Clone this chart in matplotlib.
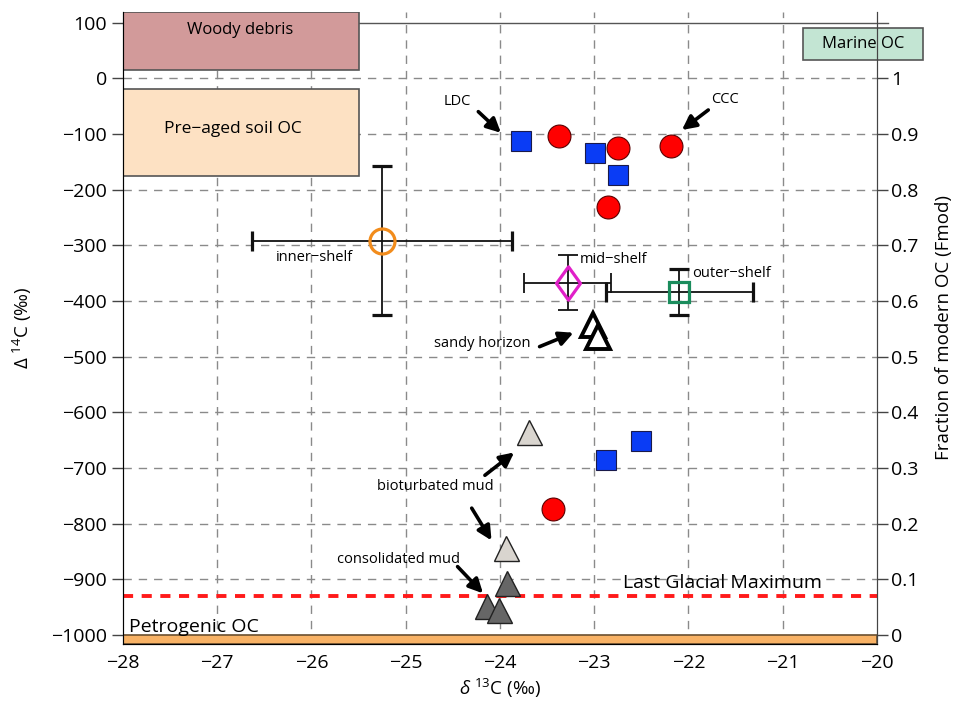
import matplotlib
matplotlib.use("Agg")
import matplotlib.pyplot as plt
from matplotlib.patches import Rectangle
from matplotlib.path import Path
import numpy as np

plt.rcParams['font.family'] = ['Open Sans', 'DejaVu Sans']
plt.rcParams['mathtext.fontset'] = 'custom'
plt.rcParams['mathtext.rm'] = 'Open Sans'
plt.rcParams['mathtext.it'] = 'Open Sans:italic'
plt.rcParams['axes.unicode_minus'] = True

# ---------------- data ----------------
ccc_d13c = [-23.37, -22.75, -22.19, -22.85, -23.44]
ccc_D14c = [-104, -125, -122, -231, -773]
ldc_d13c = [-23.78, -22.99, -22.75, -22.88, -22.50]
ldc_D14c = [-113, -135, -173, -686, -652]

shelf_names = ['inner\u2212shelf', 'mid\u2212shelf', 'outer\u2212shelf']
shelf_d13c = [-25.25, -23.28, -22.10]
shelf_D14c = [-292, -367, -384]
shelf_xerr = [1.38, 0.46, 0.78]
shelf_yerr = [134, 50, 41]

sandy_d13c = [-23.01, -22.955]
sandy_D14c = [-443, -465]
biot_d13c = [-23.69, -23.94]
biot_D14c = [-635, -843]
cons_d13c = [-23.93, -24.14, -24.01]
cons_D14c = [-907, -948, -955]

lgm_D14c = -930
xticks = [-28, -27, -26, -25, -24, -23, -22, -21, -20]
yticks = list(range(-1000, 101, 100))
fticks = [0, 0.1, 0.2, 0.3, 0.4, 0.5, 0.6, 0.7, 0.8, 0.9, 1]
fticklabels = ['0', '0.1', '0.2', '0.3', '0.4', '0.5', '0.6', '0.7', '0.8', '0.9', '1']

# ---------------- figure ----------------
fig = plt.figure(figsize=(9.55, 7.04), dpi=100)
ax = fig.add_axes([0.1288, 0.0852, 0.7895, 0.8978])
ylo, yhi = -1016, 119
ax.set_xlim(-28, -20)
ax.set_ylim(ylo, yhi)

# grid
gridkw = dict(color='#8a8a8a', lw=1.0, dashes=(6, 5), zorder=0.5)
for x in xticks[1:-1]:
    ax.axvline(x, **gridkw)
for y in yticks[1:-1]:
    ax.axhline(y, **gridkw)
ax.plot([-28, -19.88], [100, 100], color='#555555', lw=1.0, clip_on=False, zorder=1)

# source boxes
ax.add_patch(Rectangle((-28, 15), 2.5, 104, facecolor='#d29a9a', edgecolor='#555555', lw=1.2, zorder=2))
ax.text(-26.76, 87, 'Woody debris', ha='center', va='center', fontsize=12, zorder=3)
ax.add_patch(Rectangle((-28, -175), 2.5, 155, facecolor='#fde1c3', edgecolor='#555555', lw=1.2, zorder=2))
ax.text(-26.83, -92, 'Pre\u2212aged soil OC', ha='center', va='center', fontsize=12.5, zorder=3)
ax.add_patch(Rectangle((-20.78, 33), 1.27, 58, facecolor='#c3e5d3', edgecolor='#555555', lw=1.2,
                       zorder=2, clip_on=False))
ax.text(-20.145, 62, 'Marine OC', ha='center', va='center', fontsize=12, zorder=3, clip_on=False)
ax.add_patch(Rectangle((-28, ylo), 8, -1000 - ylo, facecolor='#f8b265', edgecolor='#6b5030', lw=1.2, zorder=2))
ax.text(-27.94, -985, 'Petrogenic OC', ha='left', va='center', fontsize=14, zorder=3)

# LGM line
ax.axhline(lgm_D14c, color='#ff1a1a', lw=2.8, dashes=(2.6, 2.2), zorder=2)
ax.text(-22.69, -906, 'Last Glacial Maximum', ha='left', va='center', fontsize=14, zorder=3)

# shelf averages with error bars
ax.errorbar(shelf_d13c[0], shelf_D14c[0], xerr=shelf_xerr[0], yerr=shelf_yerr[0], fmt='o', ms=18,
            mfc='none', mec='#f28c1c', mew=2.3, ecolor='#111111', elinewidth=1.3, capsize=7, capthick=1.3, zorder=4)
diamond = Path([(0, 1), (0.72, 0), (0, -1), (-0.72, 0), (0, 1)],
               [Path.MOVETO, Path.LINETO, Path.LINETO, Path.LINETO, Path.CLOSEPOLY])
ax.errorbar(shelf_d13c[1], shelf_D14c[1], xerr=shelf_xerr[1], yerr=shelf_yerr[1], fmt='none',
            ecolor='#111111', elinewidth=1.3, capsize=7, capthick=1.3, zorder=4)
ax.plot(shelf_d13c[1], shelf_D14c[1], marker=diamond, ms=24, mfc='none', mec='#e020c8', mew=2.3, ls='none', zorder=5)
ax.errorbar(shelf_d13c[2], shelf_D14c[2], xerr=shelf_xerr[2], yerr=shelf_yerr[2], fmt='s', ms=14.5,
            mfc='none', mec='#1a8c5c', mew=2.3, ecolor='#111111', elinewidth=1.3, capsize=7, capthick=1.3, zorder=4)
ax.text(-25.97, -322, shelf_names[0], ha='center', va='center', fontsize=10.5, zorder=6)
ax.text(-23.15, -326, shelf_names[1], ha='left', va='center', fontsize=10.5, zorder=6)
ax.text(-21.96, -351, shelf_names[2], ha='left', va='center', fontsize=10.5, zorder=6)

# core samples
ax.plot(ccc_d13c, ccc_D14c, 'o', ms=16.5, mfc='#ff0000', mec='#5a0000', mew=0.8, ls='none', zorder=5)
ax.plot(ldc_d13c, ldc_D14c, 's', ms=13.7, mfc='#0a3cf5', mec='#1a1a4a', mew=0.8, ls='none', zorder=5)
ax.plot(sandy_d13c, sandy_D14c, '^', ms=17, mfc='white', mec='black', mew=2.8, ls='none', zorder=5)
ax.plot(biot_d13c, biot_D14c, '^', ms=18, mfc='#d9d5cf', mec='#222222', mew=1.0, ls='none', zorder=5)
ax.plot(cons_d13c, cons_D14c, '^', ms=18, mfc='#666666', mec='#222222', mew=1.0, ls='none', zorder=5)

# annotations
akw = dict(arrowstyle='-|>', color='black', lw=2.6, mutation_scale=21, shrinkA=0, shrinkB=0)
def arrow(tail, head):
    ax.annotate('', xy=head, xytext=tail, arrowprops=akw, zorder=6)

ax.text(-24.45, -42, 'LDC', ha='center', va='center', fontsize=10.5)
arrow((-24.23, -60), (-23.99, -98))
ax.text(-21.61, -39, 'CCC', ha='center', va='center', fontsize=10.5)
arrow((-21.79, -57), (-22.07, -93))
ax.text(-24.19, -476, 'sandy horizon', ha='center', va='center', fontsize=10.5)
arrow((-23.58, -482), (-23.22, -457))
ax.text(-24.69, -734, 'bioturbated mud', ha='center', va='center', fontsize=10.5)
arrow((-24.16, -713), (-23.85, -672))
arrow((-24.30, -772), (-24.09, -830))
ax.text(-25.08, -864, 'consolidated mud', ha='center', va='center', fontsize=10.5)
arrow((-24.45, -877), (-24.18, -925))

# axes styling
ax.set_xticks(xticks)
ax.set_yticks(yticks)
ax.tick_params(axis='both', labelsize=14, direction='out', length=8, width=1, color='#444444')
ax.tick_params(axis='x', length=0, pad=7)
for s in ['top']:
    ax.spines[s].set_visible(False)
for s in ['left', 'right', 'bottom']:
    ax.spines[s].set_color('#444444')
ax.set_xlabel(r'$\delta$ $^{13}$C (‰)', fontsize=13.5, labelpad=4)
ax.set_ylabel(r'$\Delta$ $^{14}$C (‰)', fontsize=13.5, labelpad=12)

ax2 = ax.twinx()
ax2.set_ylim(1 + ylo / 1000, 1 + yhi / 1000)
ax2.set_yticks(fticks)
ax2.set_yticklabels(fticklabels)
ax2.tick_params(axis='y', labelsize=14, direction='out', length=8, width=1, color='#444444', pad=2)
ax2.spines['top'].set_visible(False)
ax2.spines['right'].set_color('#444444')
ax2.set_ylabel('Fraction of modern OC (Fmod)', fontsize=13.5, labelpad=12)

fig.savefig('out.png', dpi=100)
